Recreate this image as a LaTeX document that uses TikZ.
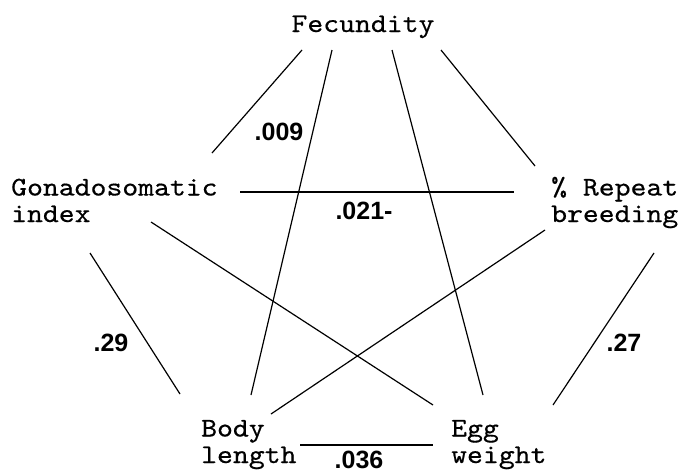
\documentclass[tikz,border=0pt]{standalone}
\usepackage{fontspec}
\newfontfamily\numfont{Liberation Sans}
\newfontfamily\varfont{lmmono10-regular.otf}[FakeStretch=1.12,FakeBold=0.5]
\tikzset{
  var/.style={font=\varfont\fontsize{27}{26.5}\selectfont, inner sep=0pt, align=left, anchor=base west},
  val/.style={font=\numfont\bfseries\fontsize{25}{25}\selectfont, inner sep=0pt},
  link/.style={line width=1.2pt}
}
\begin{document}
\begin{tikzpicture}[x=1pt,y=-1pt]
\useasboundingbox (0,0) rectangle (684,474);
% variables (base anchor = baseline of last line)
\node[var, anchor=base] (fec) at (363,32) {Fecundity};
\node[var] (gsi) at (11,222) {Gonadosomatic\\index};
\node[var] (rep) at (551,222) {\% Repeat\\breeding};
\node[var] (body) at (201,463) {Body\\length};
\node[var] (egg) at (451,463) {Egg\\weight};
% line end points
\coordinate (f1) at (302,50);  \coordinate (g1) at (212,153);
\coordinate (f2) at (332,50);  \coordinate (b2) at (251,395);
\coordinate (f3) at (392,50);  \coordinate (e3) at (483,395);
\coordinate (f4) at (441,50);  \coordinate (r4) at (535,166);
\coordinate (g5) at (240,192); \coordinate (r5) at (514,192);
\coordinate (g6) at (151,222); \coordinate (e6) at (433,405);
\coordinate (r7) at (545,230); \coordinate (b7) at (271,414);
\coordinate (b8) at (300,445); \coordinate (e8) at (433,445);
\coordinate (g9) at (90,253);  \coordinate (b9) at (180,394);
\coordinate (r10) at (654,253); \coordinate (e10) at (553,405);
% connectors
\draw[link] (f1) -- (g1);
\draw[link] (f2) -- (b2);
\draw[link] (f3) -- (e3);
\draw[link] (f4) -- (r4);
\draw[link] (g5) -- (r5);
\draw[link] (g6) -- (e6);
\draw[link] (r7) -- (b7);
\draw[link] (b8) -- (e8);
\draw[link] (g9) -- (b9);
\draw[link] (r10) -- (e10);
% values
\node[val] (v1) at (279,132) {.009};
\node[val] (v2) at (364,211) {.021-};
\node[val] (v3) at (111,343) {.29};
\node[val] (v4) at (624,343) {.27};
\node[val] (v5) at (359,460) {.036};
\end{tikzpicture}
\end{document}
